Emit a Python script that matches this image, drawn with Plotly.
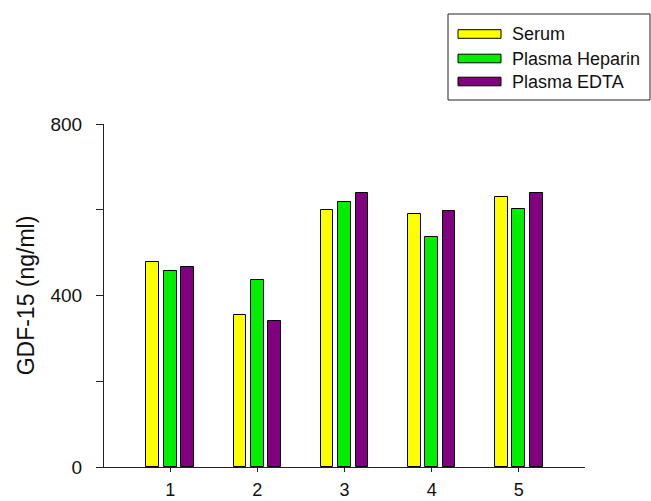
import plotly.graph_objects as go

categories = [1, 2, 3, 4, 5]
serum = [477, 354, 600, 589, 630]
plasma_heparin = [457, 437, 617, 537, 601]
plasma_edta = [466, 340, 640, 598, 639]
series_names = ["Serum", "Plasma Heparin", "Plasma EDTA"]
series_colors = ["#FFFF00", "#00EE00", "#800080"]
y_tick_vals = [0, 400, 800]
y_minor_vals = [200, 600]

W, H = 651, 501
L, R, T, B = 104, 66, 124, 34
pw, ph = W - L - R, H - T - B

def px_x(x):
    return (x - L) / pw

def px_y(y):
    return (H - B - y) / ph

fig = go.Figure()
offsets = [-0.2, 0.0, 0.2]
for name, vals, col, off in zip(series_names, [serum, plasma_heparin, plasma_edta], series_colors, offsets):
    fig.add_trace(go.Bar(
        x=categories, y=vals, name=name, width=0.145, offset=off - 0.0725,
        marker=dict(color=col, line=dict(color="black", width=1)),
        showlegend=False,
    ))

fig.update_layout(
    width=W, height=H,
    margin=dict(l=L, r=R, t=T, b=B, pad=0),
    plot_bgcolor="white", paper_bgcolor="white",
    font=dict(family="Liberation Sans, Arial, sans-serif", size=19, color="#111"),
    xaxis=dict(range=[0.24, 5.76], tickvals=categories, ticktext=[str(c) for c in categories],
               showgrid=False, zeroline=False, showline=True, linecolor="#222", linewidth=1,
               ticks="outside", ticklen=4, tickcolor="#222", tickfont=dict(size=18),
               ticklabelstandoff=2, automargin=False),
    yaxis=dict(range=[0, 800], tickvals=y_tick_vals, showgrid=False, zeroline=False,
               showline=True, linecolor="#222", linewidth=1,
               ticks="outside", ticklen=7, tickcolor="#222", tickfont=dict(size=19),
               ticklabelstandoff=10,
               minor=dict(tickvals=y_minor_vals, ticks="outside", ticklen=7, tickcolor="#222"),
               title=dict(text="GDF-15 (ng/ml)", font=dict(size=23), standoff=9),
               automargin=False),
    bargap=0,
)

# custom legend
shapes = [dict(type="rect", xref="paper", yref="paper",
               x0=px_x(448), x1=px_x(650), y0=px_y(100), y1=px_y(14),
               line=dict(color="#222", width=1), fillcolor="white")]
annotations = []
row_y = [34, 58.5, 81.5]
for name, col, yc in zip(series_names, series_colors, row_y):
    shapes.append(dict(type="rect", xref="paper", yref="paper",
                       x0=px_x(458), x1=px_x(501), y0=px_y(yc + 4.3), y1=px_y(yc - 4.3),
                       line=dict(color="black", width=1), fillcolor=col))
    annotations.append(dict(xref="paper", yref="paper", x=px_x(510), y=px_y(yc),
                            xanchor="left", yanchor="middle", text=name, showarrow=False,
                            font=dict(size=18, color="#111")))
fig.update_layout(shapes=shapes, annotations=annotations)

fig.write_html("out.html")
